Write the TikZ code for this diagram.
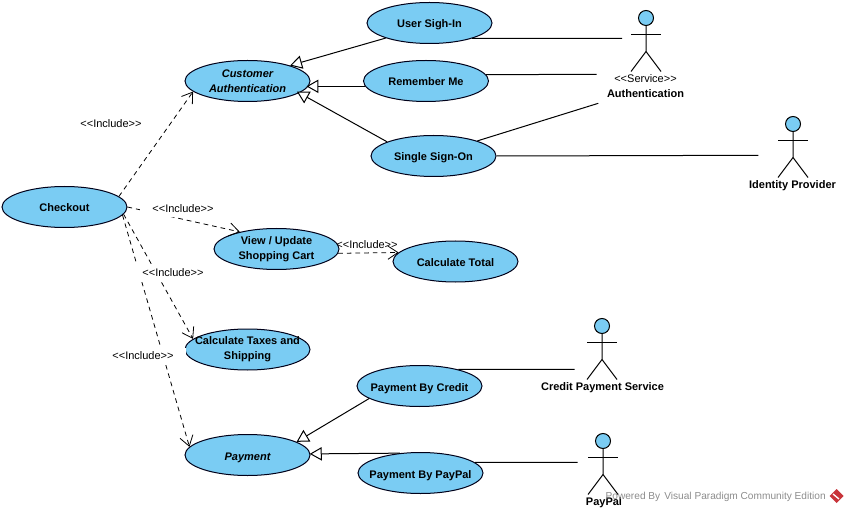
\documentclass[tikz,border=0pt]{standalone}
\usepackage{fontspec}
\setmainfont{Liberation Sans}
\usepackage{xcolor}
\usetikzlibrary{arrows.meta,shapes.geometric}

\definecolor{usecase}{RGB}{122,204,243}
\definecolor{vpred}{RGB}{200,52,58}
\newcommand{\stereo}[1]{<{}<#1>{}>}

\tikzset{
    txt/.style={font=\fontsize{8.25}{11.25}\selectfont, align=center},
    twolines/.style={txt, ellipse, draw=black!90!blue, fill=usecase, line width=0.75pt, minimum width=93.75pt, minimum height=30.75pt, inner xsep=-30pt, inner ysep=-12pt, font=\fontsize{8.25}{11.25}\selectfont\bfseries},
    usecase/.style={twolines, text height=8pt, text depth=0.5pt},
    abstract/.style={font=\fontsize{8.25}{11.25}\selectfont\bfseries\itshape},
    head/.style={circle, draw=black, fill=usecase, line width=0.75pt, minimum size=11.25pt, inner sep=0pt},
    actorname/.style={txt, font=\fontsize{8.25}{11.25}\selectfont\bfseries},
    inclabel/.style={txt, fill=white, inner xsep=9pt, inner ysep=0pt, minimum height=12.75pt},
    assoc/.style={line width=0.75pt},
    general/.style={line width=0.75pt, -{Triangle[open, length=9pt, width=10pt, fill=white]}},
    include/.style={line width=0.6pt, dash pattern=on 3.5pt off 3pt, -{Straight Barb[length=7.5pt, width=10pt]}}
}

\begin{document}
\begin{tikzpicture}[x=0.75pt, y=-0.75pt]
    \useasboundingbox (0,0) rectangle (849,513);

    \node[usecase] (checkout) at (64.5,207) {Checkout};
    \node[twolines, abstract] (custauth) at (247.5,81) {Customer\\Authentication};
    \node[usecase] (signin) at (429.5,23) {User Sigh-In};
    \node[usecase] (remember) at (426,81) {Remember Me};
    \node[usecase] (sso) at (433.5,156) {Single Sign-On};
    \node[twolines] (cart) at (276.5,249) {View / Update\\Shopping Cart};
    \node[usecase] (total) at (455.5,261.5) {Calculate Total};
    \node[twolines] (taxes) at (247.5,349.5) {Calculate Taxes and\\Shipping};
    \node[usecase, abstract] (payment) at (247.5,455) {Payment};
    \node[usecase] (credit) at (419.5,386) {Payment By Credit};
    \node[usecase] (paypal) at (420.5,473) {Payment By PayPal};

    % actors
    \foreach \name/\x/\y in {authactor/646/18, idpactor/793/124, creditactor/602/326, paypalactor/603/441} {
        \node[head] (\name) at (\x,\y) {};
        \draw[assoc] (\name.south) -- ++(0,25.5) -- ++(-15,20);
        \draw[assoc] (\name.south) ++(0,25.5) -- ++(15,20);
        \draw[assoc] (\name.south) ++(-15,8.5) -- ++(30,0);
    }
    \node[actorname] (authname) at (645.5,86.5) {\normalfont\stereo{Service}\\Authentication};
    \node[actorname] (idpname) at (792.5,185.5) {Identity Provider};
    \node[actorname] (creditname) at (602.5,387.5) {Credit Payment Service};
    \node[actorname] (paypalname) at (604,502.5) {PayPal};

    \coordinate (authA) at (622,38.3);
    \coordinate (authB) at (596.7,74.3);
    \coordinate (authC) at (598.3,103.3);
    \coordinate (idpA) at (758.3,155.3);
    \coordinate (creditA) at (574.7,369.3);
    \coordinate (paypalA) at (577.7,462.3);

    \draw[assoc] (signin.-20.3) -- (authA);
    \draw[assoc] (remember.6.5) -- (authB);
    \draw[assoc] (sso.19) -- (authC);
    \draw[assoc] (sso.0.65) -- (idpA);
    \draw[assoc] (credit.23.4) -- (creditA);
    \draw[assoc] (paypal.11.1) -- (paypalA);

    \draw[general] (signin.199.9) -- (custauth.20.2);
    \draw[general, shorten >=-1.5pt] (remember.185.2) -- (custauth.-5.4);
    \draw[general, shorten >=-2pt] (sso.163.9) -- (custauth.-13.6);
    \draw[general] (credit.194.8) -- (payment.15.4);
    \draw[general, shorten >=-0.5pt] (paypal.136.1) -- (payment.1.6);

    \draw[include] (checkout.11.4) -- (custauth.191.2);
    \draw[include] (checkout.0.3) -- (cart.155.7);
    \draw[include] (checkout.-7.8) -- (taxes.169.6);
    \draw[include] (checkout.-8.1) -- (payment.172.1);
    \draw[include] (cart.-4.25) -- (total.171.4);

    \node[inclabel] (inclA) at (111,124) {\stereo{Include}};
    \node[inclabel] (inclB) at (183,209) {\stereo{Include}};
    \node[inclabel, fill=none] (inclC) at (367,245) {\stereo{Include}};
    \node[inclabel] (inclD) at (173,273) {\stereo{Include}};
    \node[inclabel] (inclE) at (143,356) {\stereo{Include}};

    \node[text=black!45, font=\fontsize{7.6}{9}\selectfont, anchor=east, inner sep=0pt] (powered) at (826,497) {Powered By\hspace{3pt}Visual Paradigm Community Edition};
    \fill[vpred] (829.5,496) -- (836.5,489) -- (843.5,496) -- (836.5,503) -- cycle;
    \draw[white, line width=1pt] (833,494) -- (839,499);
\end{tikzpicture}
\end{document}
